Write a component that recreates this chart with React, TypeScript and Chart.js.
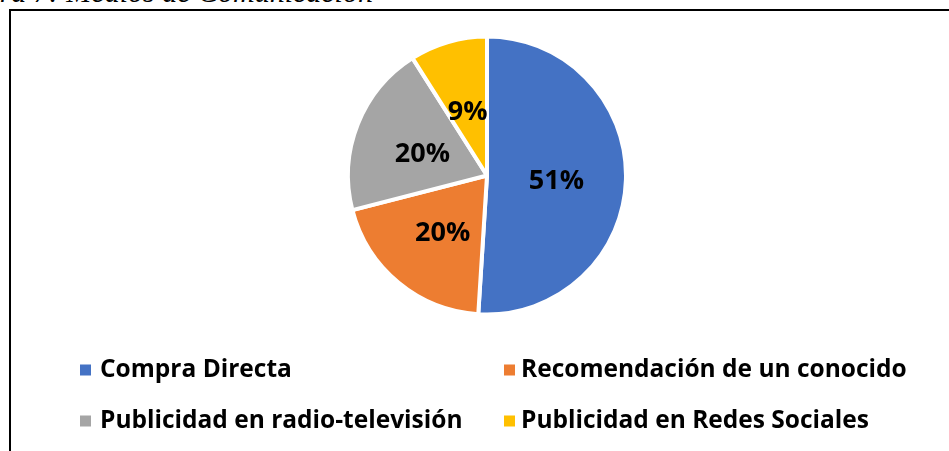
import React, { useEffect, useRef } from "react";
import { Chart, registerables } from "chart.js";

Chart.register(...registerables);

const categories = [
  "Compra Directa",
  "Recomendación de un conocido",
  "Publicidad en radio-televisión",
  "Publicidad en Redes Sociales",
];
const percentages = [51, 20, 20, 9];
const sliceColors = ["#4472C4", "#ED7D31", "#A5A5A5", "#FFC000"];
const captionText = "Figura 7: Medios de Comunicación";

const FONT = "'Open Sans', 'Noto Sans', sans-serif";

const sliceLabelPlugin = {
  id: "sliceLabels",
  afterDatasetsDraw(chart: any) {
    const ctx = chart.ctx;
    const meta = chart.getDatasetMeta(0);
    const data = chart.data.datasets[0].data;
    ctx.save();
    ctx.font = `bold 27px ${FONT}`;
    ctx.fillStyle = "#000";
    ctx.textAlign = "center";
    ctx.textBaseline = "middle";
    meta.data.forEach((arc: any, i: number) => {
      const p = arc.tooltipPosition();
      ctx.fillText(`${data[i]}%`, p.x, p.y + 4);
    });
    ctx.restore();
  },
};

const gridLegendPlugin = {
  id: "gridLegend",
  afterDraw(chart: any, _args: any, opts: any) {
    const ctx = chart.ctx;
    const labels = chart.data.labels as string[];
    const colors = chart.data.datasets[0].backgroundColor as string[];
    ctx.save();
    ctx.font = `bold ${opts.fontSize}px ${FONT}`;
    ctx.textBaseline = "middle";
    ctx.textAlign = "left";
    labels.forEach((lab, i) => {
      const col = i % 2;
      const row = Math.floor(i / 2);
      const mx = opts.colX[col];
      const cy = opts.rowY[row];
      ctx.fillStyle = colors[i];
      ctx.fillRect(mx, cy - opts.box / 2, opts.box, opts.box);
      ctx.fillStyle = "#000";
      ctx.fillText(lab, opts.textX[col], cy);
    });
    ctx.restore();
  },
};

export default function App() {
  const ref = useRef<HTMLCanvasElement | null>(null);
  useEffect(() => {
    if (!ref.current) return;
    const chart = new Chart(ref.current, {
      type: "pie",
      data: {
        labels: categories,
        datasets: [
          {
            data: percentages,
            backgroundColor: sliceColors,
            borderColor: "#ffffff",
            borderWidth: 4,
          },
        ],
      },
      options: {
        responsive: false,
        animation: false,
        radius: 139,
        layout: { padding: { left: 300, right: 275, top: 30, bottom: 130 } },
        plugins: {
          legend: { display: false },
          tooltip: { enabled: false },
          gridLegend: {
            colX: [80, 504],
            textX: [100, 521],
            rowY: [370, 421],
            box: 11,
            fontSize: 24.5,
          },
        } as any,
      },
      plugins: [sliceLabelPlugin, gridLegendPlugin],
    });
    return () => chart.destroy();
  }, []);

  return (
    <div
      style={{
        position: "fixed",
        left: 0,
        top: 0,
        width: 949,
        height: 451,
        overflow: "hidden",
        background: "#fff",
      }}
    >
      <div
        style={{
          position: "absolute",
          left: -57,
          top: -23,
          font: "italic 30px 'Liberation Serif', 'Times New Roman', serif",
          lineHeight: "30px",
          whiteSpace: "nowrap",
          color: "#000",
        }}
      >
        {captionText}
      </div>
      <div
        style={{
          position: "absolute",
          left: 9,
          top: 9,
          width: 980,
          height: 480,
          border: "2px solid #000",
          boxSizing: "border-box",
        }}
      />
      <canvas
        ref={ref}
        width={949}
        height={451}
        style={{ position: "absolute", left: 0, top: 0, width: 949, height: 451 }}
      />
    </div>
  );
}
